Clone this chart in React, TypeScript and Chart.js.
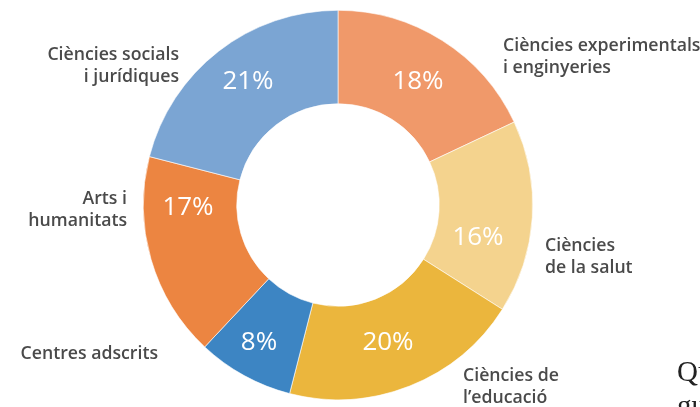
import React, { useEffect, useRef } from "react";
import { Chart, registerables } from "chart.js";

Chart.register(...registerables);

const categories: string[][] = [
  ["Ciències experimentals", "i enginyeries"],
  ["Ciències", "de la salut"],
  ["Ciències de", "l’educació"],
  ["Centres adscrits"],
  ["Arts i", "humanitats"],
  ["Ciències socials", "i jurídiques"],
];
const shares: number[] = [18, 16, 20, 8, 17, 21];
const colors: string[] = ["#F0996A", "#F4D38E", "#EBB63D", "#3D85C3", "#EC8541", "#7BA5D3"];

// category label anchors (x, y of first line middle, alignment)
const labelLayout: { x: number; y: number; align: CanvasTextAlign }[] = [
  { x: 503, y: 46, align: "left" },
  { x: 545, y: 246, align: "left" },
  { x: 463, y: 376, align: "left" },
  { x: 158, y: 354, align: "right" },
  { x: 127, y: 199, align: "right" },
  { x: 179, y: 55, align: "right" },
];
// percentage label positions
const pctLayout: { x: number; y: number }[] = [
  { x: 418, y: 82 },
  { x: 478, y: 238 },
  { x: 388, y: 343 },
  { x: 259, y: 343 },
  { x: 188, y: 208 },
  { x: 248, y: 82 },
];

const FONT = '"Open Sans", "DejaVu Sans", sans-serif';

const labelPlugin = {
  id: "labels",
  afterDatasetsDraw(chart: any) {
    const ctx = chart.ctx as CanvasRenderingContext2D;
    ctx.save();
    shares.forEach((v, i) => {
      const p = pctLayout[i];
      ctx.fillStyle = "#ffffff";
      ctx.font = `400 26px ${FONT}`;
      ctx.textAlign = "center";
      ctx.textBaseline = "middle";
      ctx.fillText(`${v}%`, p.x, p.y);
    });
    categories.forEach((lines, i) => {
      const l = labelLayout[i];
      ctx.fillStyle = "#4a4a4a";
      ctx.font = `600 17.7px ${FONT}`;
      ctx.textAlign = l.align;
      ctx.textBaseline = "middle";
      lines.forEach((t, j) => ctx.fillText(t, l.x, l.y + j * 21.5));
    });
    ctx.restore();
  },
};

export default function App() {
  const ref = useRef<HTMLCanvasElement>(null);
  useEffect(() => {
    if (!ref.current) return;
    const chart = new Chart(ref.current, {
      type: "doughnut",
      data: {
        labels: categories.map((c) => c.join(" ")),
        datasets: [
          {
            data: shares,
            backgroundColor: colors,
            borderColor: "#ffffff",
            borderWidth: 0.6,
          },
        ],
      },
      options: {
        animation: false,
        responsive: false,
        cutout: "52%",
        layout: { padding: { left: 143, right: 167, top: 10, bottom: 7 } },
        plugins: { legend: { display: false }, tooltip: { enabled: false } },
      },
      plugins: [labelPlugin],
    });
    return () => chart.destroy();
  }, []);
  return (
    <div style={{ position: "absolute", left: 0, top: 0, width: 700, height: 407, overflow: "hidden", background: "#fff" }}>
      <canvas ref={ref} width={700} height={407} style={{ position: "absolute", left: 0, top: 0 }} />
      <div
        style={{
          position: "absolute",
          left: 677,
          top: 354,
          fontFamily: '"Liberation Serif", serif',
          fontSize: 29,
          lineHeight: "34px",
          color: "#222",
          whiteSpace: "nowrap",
        }}
      >
        Qu
        <br />
        gu
      </div>
    </div>
  );
}
